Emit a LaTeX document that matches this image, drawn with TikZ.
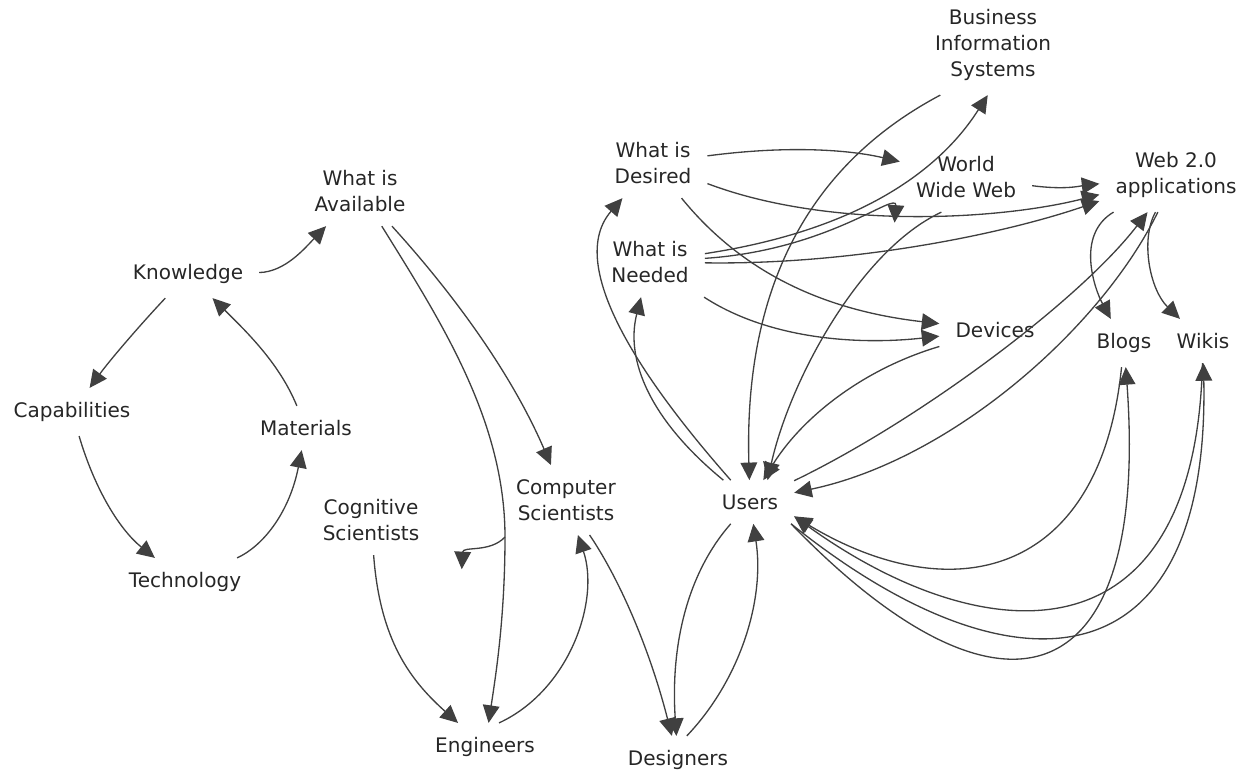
\documentclass[tikz,border=0pt]{standalone}
\usepackage{fontspec}
\setmainfont{DejaVu Sans}
\usetikzlibrary{arrows.meta}

\begin{document}
\begin{tikzpicture}[x=0.02cm, y=-0.02cm,
  topic/.style={align=center, inner xsep=9pt, inner ysep=8pt, text=black!85,
    font=\fontsize{11.4}{14.8}\selectfont},
  link/.style={-{Triangle[length=10pt,width=9.5pt]}, draw=black!75, line width=0.75pt}]
\useasboundingbox (0,0) rectangle (1248,772);

% left cycle
\node[topic] (know)  at (188,274) {Knowledge};
\node[topic] (cap)   at (72,412)  {Capabilities};
\node[topic] (mat)   at (306,428) {Materials};
\node[topic] (tech)  at (185,582) {Technology};
\node[topic] (avail) at (360,191) {What is\\Available};

% people
\node[topic] (cs)  at (566,500) {Computer\\Scientists};
\node[topic] (cog) at (371,520) {Cognitive\\Scientists};
\node[topic] (eng) at (485,747) {Engineers};
\node[topic] (des) at (678,760) {Designers};
\node[topic] (users) at (750,502) {Users};

% needs and systems
\node[topic] (desired) at (653,163) {What is\\Desired};
\node[topic] (needed)  at (650,262) {What is\\Needed};
\node[topic] (bis)   at (993,45)   {Business\\Information\\Systems};
\node[topic] (www)   at (966,177)  {World\\Wide Web};
\node[topic] (web)   at (1176,175) {Web 2.0\\applications};
\node[topic] (dev)   at (995,330)  {Devices};
\node[topic] (blogs) at (1124,343) {Blogs};
\node[topic] (wikis) at (1203,341) {Wikis};

\coordinate (fork) at (505,537);

\draw[link] (know) .. controls (285,272) and (305,248) .. (avail);
\draw[link] (know) .. controls (140,325) and (110,360) .. (cap);
\draw[link] (mat) .. controls (280,365) and (250,335) .. (know);
\draw[link] (cap) .. controls (95,490) and (120,530) .. (tech);
\draw[link] (tech) .. controls (265,545) and (290,510) .. (mat);

\draw[link] (avail) .. controls (450,290) and (510,370) .. (cs);
\draw[link] (avail) .. controls (440,320) and (505,420) .. (fork) .. controls (505,620) and (495,680) .. (eng);
\draw[link] (fork) .. controls (490,553) and (463,546) .. ([xshift=15pt,yshift=-8pt]cog.south east);
\draw[link] (cog) .. controls (380,640) and (410,680) .. (eng);
\draw[link] ([xshift=8pt]eng.north) .. controls (570,690) and (600,600) .. (cs);
\draw[link] (cs) .. controls (620,580) and (650,650) .. (des);
\draw[link] (users) .. controls (690,570) and (670,640) .. (des);
\draw[link] ([xshift=5pt]des.north) .. controls (740,680) and (765,600) .. (users);

\draw[link] (users) .. controls (660,400) and (560,270) .. (desired);
\draw[link] (users) .. controls (650,420) and (625,360) .. (needed);
\draw[link] ([xshift=-30pt]bis.south) .. controls (780,180) and (745,330) .. (users);
\draw[link] (needed) .. controls (860,230) and (940,170) .. ([xshift=-3pt]bis.south);
\draw[link] ([xshift=-14pt]www.south) .. controls (860,250) and (790,380) .. ([xshift=10pt]users.north);
\draw[link] (desired) .. controls (790,145) and (850,150) .. (www);
\draw[link] (desired) .. controls (830,230) and (1000,220) .. (web);
\draw[link] (needed) .. controls (830,250) and (897,190) .. ([xshift=-3pt,yshift=-6pt]www.south west);
\draw[link] (needed) .. controls (850,265) and (1000,235) .. (web);
\draw[link] (www) .. controls (1065,190) and (1080,186) .. (web);
\draw[link] (desired) .. controls (740,270) and (820,310) .. (dev);
\draw[link] (needed) .. controls (770,340) and (860,345) .. (dev);
\draw[link] (dev) .. controls (860,370) and (800,420) .. (users);

\draw[link] (web) .. controls (1075,235) and (1095,290) .. (blogs);
\draw[link] (web) .. controls (1140,240) and (1150,290) .. (wikis);
\draw[link] (users) .. controls (920,420) and (1080,300) .. (web);
\draw[link] (web) .. controls (1100,330) and (950,460) .. (users);

\draw[link] (blogs) .. controls (1100,580) and (950,610) .. (users.-18);
\draw[link] (wikis) .. controls (1195,670) and (980,650) .. (users.-18);
\draw[link] (users.-28) .. controls (1010,700) and (1210,690) .. (wikis);
\draw[link] (users.-28) .. controls (1000,740) and (1150,700) .. (blogs);
\end{tikzpicture}
\end{document}
